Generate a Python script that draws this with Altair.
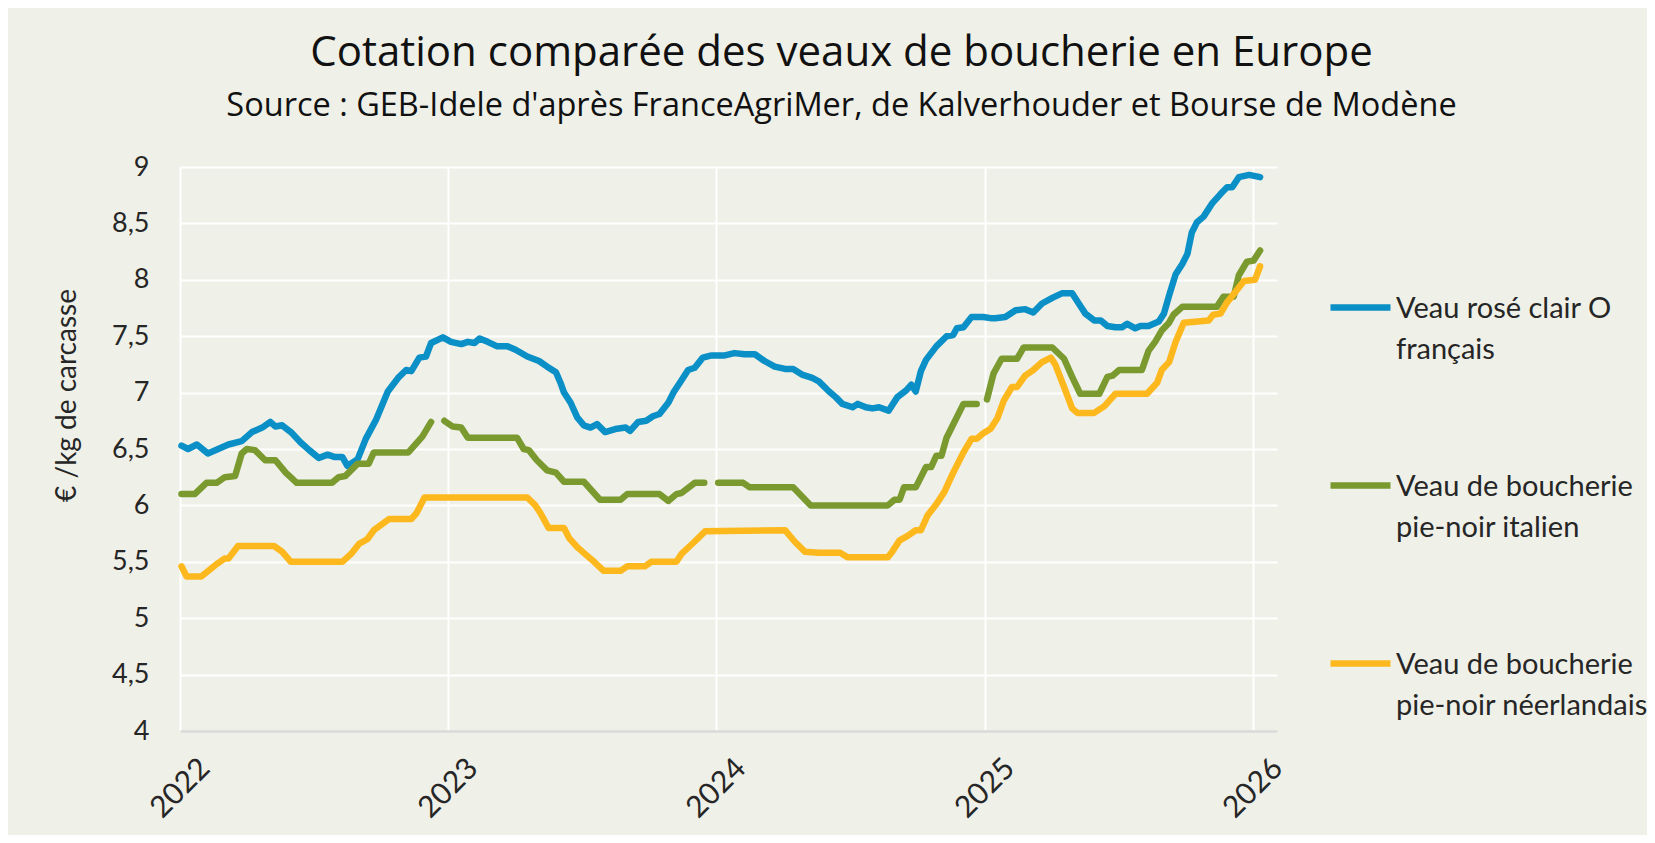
import altair as alt
import pandas as pd

series_names = [
    "Veau rosé clair O français",
    "Veau de boucherie pie-noir italien",
    "Veau de boucherie pie-noir néerlandais",
]
series_lines = [
    ["Veau rosé clair O", "français"],
    ["Veau de boucherie", "pie-noir italien"],
    ["Veau de boucherie", "pie-noir néerlandais"],
]
series_colors = ["#0A8FC6", "#7A9A2F", "#FDB81E"]

blue_dates = [
    "2022-01-03", "2022-01-12", "2022-01-24", "2022-02-08", "2022-02-22", "2022-03-08", "2022-03-26",
    "2022-04-09", "2022-04-23", "2022-05-04", "2022-05-11", "2022-05-20", "2022-06-01", "2022-06-14",
    "2022-06-26", "2022-07-09", "2022-07-21", "2022-07-30", "2022-08-10", "2022-08-17", "2022-08-31",
    "2022-09-11", "2022-09-25", "2022-10-11", "2022-10-25", "2022-11-05", "2022-11-12", "2022-11-23",
    "2022-12-02", "2022-12-09", "2022-12-25", "2023-01-05", "2023-01-19", "2023-01-28", "2023-02-06",
    "2023-02-13", "2023-02-24", "2023-03-09", "2023-03-23", "2023-04-03", "2023-04-19", "2023-05-05",
    "2023-05-16", "2023-05-28", "2023-06-03", "2023-06-08", "2023-06-17", "2023-06-26", "2023-07-05",
    "2023-07-14", "2023-07-23", "2023-08-03", "2023-08-19", "2023-08-31", "2023-09-06", "2023-09-17",
    "2023-09-28", "2023-10-07", "2023-10-16", "2023-10-28", "2023-11-04", "2023-11-13", "2023-11-24",
    "2023-12-03", "2023-12-14", "2023-12-26", "2024-01-13", "2024-01-26", "2024-02-09", "2024-02-23",
    "2024-03-07", "2024-03-21", "2024-04-04", "2024-04-15", "2024-04-27", "2024-05-11", "2024-05-20",
    "2024-06-03", "2024-06-12", "2024-06-21", "2024-07-05", "2024-07-12", "2024-07-23", "2024-08-01",
    "2024-08-10", "2024-08-23", "2024-09-04", "2024-09-16", "2024-09-23", "2024-09-29", "2024-10-06",
    "2024-10-13", "2024-10-27", "2024-11-10", "2024-11-19", "2024-11-24", "2024-12-03", "2024-12-14",
    "2024-12-30", "2025-01-09", "2025-01-15", "2025-01-29", "2025-02-12", "2025-02-25", "2025-03-08",
    "2025-03-20", "2025-04-03", "2025-04-16", "2025-04-30", "2025-05-09", "2025-05-18", "2025-05-30",
    "2025-06-08", "2025-06-17", "2025-06-28", "2025-07-07", "2025-07-14", "2025-07-25", "2025-08-01",
    "2025-08-12", "2025-08-26", "2025-09-02", "2025-09-09", "2025-09-18", "2025-09-27", "2025-10-04",
    "2025-10-10", "2025-10-17", "2025-10-26", "2025-11-07", "2025-11-18", "2025-11-27", "2025-12-04",
    "2025-12-13", "2025-12-27", "2026-01-11",
]
blue_values = [
    6.53, 6.50, 6.54, 6.46, 6.50, 6.54, 6.57,
    6.65, 6.69, 6.74, 6.70, 6.71, 6.65, 6.56,
    6.49, 6.42, 6.45, 6.43, 6.43, 6.35, 6.41,
    6.59, 6.76, 7.01, 7.13, 7.20, 7.19, 7.31,
    7.32, 7.44, 7.49, 7.45, 7.43, 7.45, 7.44,
    7.48, 7.45, 7.41, 7.41, 7.38, 7.32, 7.28,
    7.23, 7.18, 7.09, 7.00, 6.91, 6.78, 6.71,
    6.69, 6.72, 6.65, 6.68, 6.69, 6.66, 6.74,
    6.75, 6.79, 6.81, 6.91, 7.00, 7.09, 7.20,
    7.22, 7.31, 7.33, 7.33, 7.35, 7.34, 7.34,
    7.28, 7.23, 7.21, 7.21, 7.16, 7.13, 7.10,
    7.01, 6.96, 6.90, 6.87, 6.90, 6.87, 6.86,
    6.87, 6.84, 6.96, 7.02, 7.07, 7.01, 7.19,
    7.29, 7.41, 7.50, 7.51, 7.57, 7.58, 7.67,
    7.67, 7.66, 7.66, 7.67, 7.73, 7.74, 7.71,
    7.79, 7.84, 7.88, 7.88, 7.79, 7.70, 7.64,
    7.64, 7.59, 7.58, 7.58, 7.61, 7.57, 7.59,
    7.59, 7.63, 7.70, 7.86, 8.05, 8.14, 8.23,
    8.42, 8.51, 8.56, 8.68, 8.76, 8.82, 8.82,
    8.91, 8.93, 8.91,
]

green_dates = [
    "2022-01-03", "2022-01-21", "2022-02-06", "2022-02-20", "2022-03-03", "2022-03-17", "2022-03-26",
    "2022-04-02", "2022-04-13", "2022-04-27", "2022-05-11", "2022-05-25", "2022-06-09", "2022-07-27",
    "2022-08-05", "2022-08-14", "2022-08-31", "2022-09-15", "2022-09-22", "2022-11-08", "2022-11-27",
    "2022-12-09", "2022-12-18", "2022-12-27", "2023-01-07", "2023-01-19", "2023-01-28", "2023-04-05",
    "2023-04-14", "2023-04-21", "2023-05-02", "2023-05-16", "2023-05-28", "2023-06-08", "2023-07-05",
    "2023-07-27", "2023-08-24", "2023-09-02", "2023-10-16", "2023-10-28", "2023-11-08", "2023-11-15",
    "2023-12-03", "2023-12-16", "2023-12-25", "2024-01-04", "2024-02-07", "2024-02-16", "2024-04-15",
    "2024-05-09", "2024-08-22", "2024-08-31", "2024-09-07", "2024-09-13", "2024-09-29", "2024-10-13",
    "2024-10-20", "2024-10-27", "2024-11-03", "2024-11-10", "2024-12-03", "2024-12-21", "2024-12-28",
    "2025-01-04", "2025-01-13", "2025-01-24", "2025-02-14", "2025-02-23", "2025-04-03", "2025-04-19",
    "2025-04-30", "2025-05-11", "2025-06-06", "2025-06-17", "2025-06-24", "2025-07-03", "2025-08-03",
    "2025-08-12", "2025-08-21", "2025-08-30", "2025-09-09", "2025-09-15", "2025-09-27", "2025-11-13",
    "2025-11-22", "2025-12-06", "2025-12-13", "2025-12-24", "2026-01-02", "2026-01-11",
]
green_values = [
    6.10, 6.10, 6.20, 6.20, 6.25, 6.26, 6.46,
    6.50, 6.49, 6.40, 6.40, 6.29, 6.20, 6.20,
    6.25, 6.26, 6.37, 6.37, 6.47, 6.47, 6.61,
    6.74, None, 6.75, 6.70, 6.69, 6.60, 6.60,
    6.50, 6.49, 6.40, 6.31, 6.29, 6.21, 6.21,
    6.05, 6.05, 6.10, 6.10, 6.04, 6.10, 6.11,
    6.20, 6.20, None, 6.20, 6.20, 6.16, 6.16,
    6.00, 6.00, 6.05, 6.05, 6.16, 6.16, 6.34,
    6.34, 6.44, 6.44, 6.60, 6.90, 6.90, None,
    6.94, 7.17, 7.30, 7.30, 7.40, 7.40, 7.30,
    7.14, 6.99, 6.99, 7.14, 7.15, 7.20, 7.20,
    7.37, 7.45, 7.55, 7.62, 7.69, 7.76, 7.76,
    7.85, 7.85, 8.04, 8.16, 8.17, 8.26,
]

yellow_dates = [
    "2022-01-03", "2022-01-10", "2022-01-30", "2022-02-18", "2022-03-03", "2022-03-08", "2022-03-21",
    "2022-05-09", "2022-05-20", "2022-06-01", "2022-08-10", "2022-08-22", "2022-09-02", "2022-09-13",
    "2022-09-22", "2022-10-13", "2022-11-12", "2022-11-19", "2022-11-30", "2023-04-19", "2023-04-30",
    "2023-05-07", "2023-05-18", "2023-06-08", "2023-06-15", "2023-06-26", "2023-07-10", "2023-07-19",
    "2023-08-01", "2023-08-24", "2023-09-02", "2023-09-26", "2023-10-05", "2023-11-08", "2023-11-15",
    "2023-12-03", "2023-12-17", "2024-04-04", "2024-04-17", "2024-05-01", "2024-05-20", "2024-06-18",
    "2024-06-28", "2024-08-22", "2024-08-28", "2024-09-07", "2024-09-18", "2024-09-29", "2024-10-06",
    "2024-10-15", "2024-10-27", "2024-11-07", "2024-11-19", "2024-12-03", "2024-12-14", "2024-12-21",
    "2024-12-30", "2025-01-09", "2025-01-18", "2025-01-27", "2025-02-07", "2025-02-14", "2025-02-25",
    "2025-03-08", "2025-03-20", "2025-04-01", "2025-04-07", "2025-04-19", "2025-04-30", "2025-05-07",
    "2025-05-30", "2025-06-13", "2025-06-28", "2025-08-10", "2025-08-24", "2025-08-30", "2025-09-09",
    "2025-09-18", "2025-09-29", "2025-11-02", "2025-11-08", "2025-11-18", "2025-11-27", "2025-12-08",
    "2025-12-20", "2026-01-04", "2026-01-11",
]
yellow_values = [
    5.46, 5.37, 5.37, 5.47, 5.53, 5.53, 5.64,
    5.64, 5.59, 5.50, 5.50, 5.57, 5.66, 5.70,
    5.78, 5.88, 5.88, 5.93, 6.07, 6.07, 6.00,
    5.93, 5.80, 5.80, 5.71, 5.63, 5.55, 5.50,
    5.42, 5.42, 5.46, 5.46, 5.50, 5.50, 5.57,
    5.68, 5.77, 5.78, 5.68, 5.59, 5.58, 5.58,
    5.54, 5.54, 5.59, 5.69, 5.73, 5.78, 5.78,
    5.91, 6.01, 6.12, 6.29, 6.47, 6.59, 6.59,
    6.64, 6.68, 6.77, 6.93, 7.05, 7.05, 7.15,
    7.20, 7.27, 7.31, 7.25, 7.05, 6.86, 6.82,
    6.82, 6.88, 6.99, 6.99, 7.09, 7.20, 7.27,
    7.45, 7.62, 7.64, 7.69, 7.70, 7.80, 7.89,
    7.99, 8.00, 8.12,
]

y_ticks = [4, 4.5, 5, 5.5, 6, 6.5, 7, 7.5, 8, 8.5, 9]
x_years = [2022, 2023, 2024, 2025, 2026]

rows = []
for name, dates, values in zip(
    series_names,
    [blue_dates, green_dates, yellow_dates],
    [blue_values, green_values, yellow_values],
):
    seg = 0
    for d, v in zip(dates, values):
        if v is None:
            seg += 1
            continue
        rows.append({"date": d, "value": v, "series": name, "seg": f"{name}-{seg}"})
df = pd.DataFrame(rows)

label_expr = ""
for name, lines in zip(series_names[:-1], series_lines[:-1]):
    label_expr += f"datum.label == '{name}' ? {lines!r} : "
label_expr += repr(series_lines[-1])

FONT = "Lato"
TXT = "#262626"

chart = (
    alt.Chart(df)
    .mark_line(strokeWidth=6.5, strokeCap="round", strokeJoin="round")
    .encode(
        x=alt.X(
            "date:T",
            scale=alt.Scale(
                type="utc",
                domain=[
                    alt.DateTime(year=2022, month=1, date=1, utc=True),
                    alt.DateTime(year=2026, month=2, date=3, utc=True),
                ],
            ),
            axis=alt.Axis(
                values=[alt.DateTime(year=y, month=1, date=1, utc=True) for y in x_years],
                format="%Y",
                labelAngle=315,
                labelAlign="center",
                labelBaseline="middle",
                labelPadding=57,
                labelFont=FONT,
                labelFontSize=30,
                labelColor=TXT,
                grid=True,
                gridColor="white",
                gridWidth=2,
                domain=True,
                domainColor="#D9D9D9",
                domainWidth=2.5,
                ticks=False,
                title=None,
            ),
        ),
        y=alt.Y(
            "value:Q",
            scale=alt.Scale(domain=[4, 9], nice=False, zero=False),
            axis=alt.Axis(
                values=y_ticks,
                labelExpr="replace(format(datum.value, '.1~f'), '.', ',')",
                labelFont=FONT,
                labelFontSize=27,
                labelColor=TXT,
                labelPadding=31,
                grid=True,
                gridColor="white",
                gridWidth=2,
                domain=False,
                ticks=False,
                title="€ /kg de carcasse",
                titleFont=FONT,
                titleFontSize=28,
                titleFontWeight="normal",
                titleColor=TXT,
                titleAngle=270,
                titleAlign="center",
                titleBaseline="middle",
                titleX=-113,
                titleY=228,
            ),
        ),
        color=alt.Color(
            "series:N",
            scale=alt.Scale(domain=series_names, range=series_colors),
            legend=alt.Legend(
                orient="none",
                legendX=1147,
                legendY=117,
                title=None,
                symbolType="M-1,-0.33L1,-0.33",
                symbolSize=3600,
                symbolStrokeWidth=6.5,
                labelFont=FONT,
                labelFontSize=29,
                labelColor=TXT,
                labelBaseline="alphabetic",
                labelOffset=2,
                labelLimit=500,
                labelExpr=label_expr,
                rowPadding=97,
            ),
        ),
        detail="seg:N",
    )
    .properties(
        width=1097,
        height=564,
        autosize=alt.AutoSizeParams(type="none"),
        padding={"left": 172, "top": 159, "right": 370, "bottom": 104},
        title=alt.TitleParams(
            text="Cotation comparée des veaux de boucherie en Europe",
            subtitle="Source : GEB-Idele d'après FranceAgriMer, de Kalverhouder et Bourse de Modène",
            font="Open Sans",
            fontSize=42,
            fontWeight="normal",
            color="#111111",
            subtitleFont="Open Sans",
            subtitleFontSize=32.5,
            subtitleColor="#111111",
            subtitlePadding=15,
            anchor="middle",
            frame="group",
            dx=113,
            offset=30,
        ),
    )
    .configure(background="#EFF0E8", style={"guide-label": {"lineHeight": 41}})
    .configure_view(strokeWidth=0)
)

chart.save("out.html", embed_options={"renderer": "svg", "actions": False})
